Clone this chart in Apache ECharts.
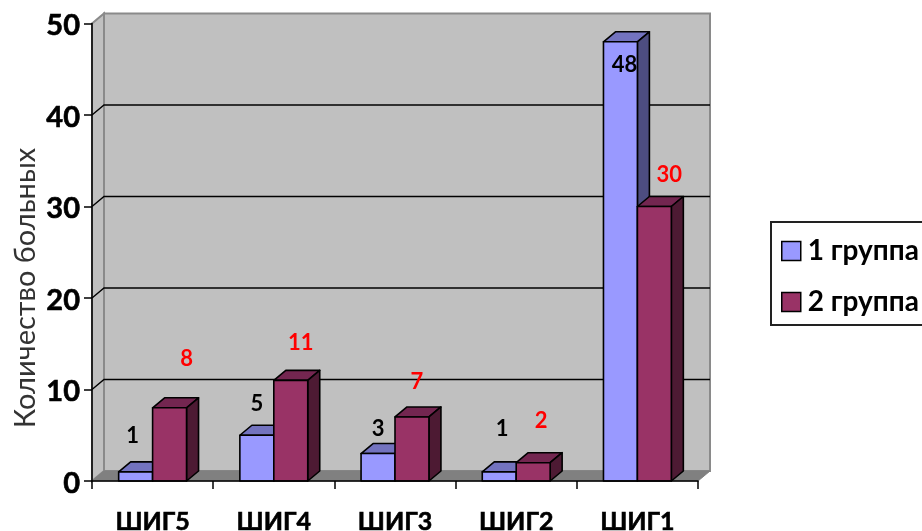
<!DOCTYPE html>
<html>
<head>
<meta charset="utf-8">
<style>html,body{margin:0;padding:0;background:#fff}#chart{width:922px;height:531px}</style>
<script src="https://cdn.jsdelivr.net/npm/echarts@6/dist/echarts.min.js"></script>
</head>
<body>
<div id="chart"></div>
<script>
// Patient counts per ШИГ grade for the two study groups
const categories = ['ШИГ5', 'ШИГ4', 'ШИГ3', 'ШИГ2', 'ШИГ1'];
const group1Name = '1 группа';
const group2Name = '2 группа';
const group1Values = [1, 5, 3, 1, 48];
const group2Values = [8, 11, 7, 2, 30];
const yMax = 50;
const yStep = 10;
const wallLines = [10, 20, 30, 40];

// Hand-placed value labels: pixel nudges from the top-centre of each bar's front face
const group1LabelDx = [-3, 0, 0, 3, 4];
const group1LabelDy = [-36, -31, -25, -43, 23];
const group2LabelDx = [17, 10, 5, 8, 15];
const group2LabelDy = [-49, -37, -35, -42, -32];

// Oblique projection used for the box and the bars
const DEPTH_X = 12;
const DEPTH_Y = -10;
const BAR_SHARE = 0.28;
const FONT = 'Lato, "Noto Sans", sans-serif';

function renderBox(params, api) {
  const o = api.coord([0, 0]);
  const band = api.size([1, 0])[0];
  const x0 = o[0] - band / 2;
  const x1 = x0 + band * categories.length;
  const yBase = o[1];
  const yTop = api.coord([0, yMax])[1];
  const wallStroke = { stroke: '#8a8a8a', lineWidth: 2 };
  const children = [
    { type: 'polygon', shape: { points: [[x0 + DEPTH_X, yTop + DEPTH_Y], [x1 + DEPTH_X, yTop + DEPTH_Y], [x1 + DEPTH_X, yBase + DEPTH_Y], [x0 + DEPTH_X, yBase + DEPTH_Y]] },
      style: Object.assign({ fill: '#c0c0c0' }, wallStroke) },
    { type: 'polygon', shape: { points: [[x0, yTop], [x0 + DEPTH_X, yTop + DEPTH_Y], [x0 + DEPTH_X, yBase + DEPTH_Y], [x0, yBase]] },
      style: Object.assign({ fill: '#c0c0c0' }, wallStroke) },
    { type: 'polygon', shape: { points: [[x0, yBase], [x0 + DEPTH_X, yBase + DEPTH_Y], [x1 + DEPTH_X, yBase + DEPTH_Y], [x1, yBase]] },
      style: { fill: '#808080', stroke: '#808080', lineWidth: 1 } }
  ];
  wallLines.forEach(function (v) {
    const y = api.coord([0, v])[1];
    children.push({ type: 'polyline', shape: { points: [[x0, y], [x0 + DEPTH_X, y + DEPTH_Y], [x1 + DEPTH_X, y + DEPTH_Y]] },
      style: { fill: null, stroke: '#000', lineWidth: 1.4 } });
  });
  return { type: 'group', children: children };
}

// Builds a renderer for one group; side is -1 for the left bar of a pair, 0 for the right one
function barRenderer(side, front, top, flank, labelColor, dxs, dys) {
  return function (params, api) {
    const idx = api.value(0);
    const val = api.value(1);
    const p = api.coord([idx, val]);
    const b = api.coord([idx, 0]);
    const w = api.size([1, 0])[0] * BAR_SHARE;
    const l = p[0] + side * w;
    const r = l + w;
    const t = p[1];
    const y0 = b[1];
    const line = { stroke: '#000', lineWidth: 1.6, lineJoin: 'round' };
    return {
      type: 'group',
      children: [
        { type: 'polygon', shape: { points: [[l, t], [l + DEPTH_X, t + DEPTH_Y], [r + DEPTH_X, t + DEPTH_Y], [r, t]] }, style: Object.assign({ fill: top }, line) },
        { type: 'polygon', shape: { points: [[r, t], [r + DEPTH_X, t + DEPTH_Y], [r + DEPTH_X, y0 + DEPTH_Y], [r, y0]] }, style: Object.assign({ fill: flank }, line) },
        { type: 'polygon', shape: { points: [[l, t], [r, t], [r, y0], [l, y0]] }, style: Object.assign({ fill: front }, line) },
        { type: 'text', z2: 50, x: (l + r) / 2 + dxs[idx], y: t + dys[idx],
          style: { text: String(val), fill: labelColor, font: 'bold 22px ' + FONT, textAlign: 'center', textVerticalAlign: 'middle' } }
      ]
    };
  };
}

const chart = echarts.init(document.getElementById('chart'), null, { renderer: 'canvas' });
chart.setOption({
  animation: false,
  backgroundColor: '#fff',
  grid: { left: 92, right: 224, top: 23.5, bottom: 50, outerBoundsMode: 'none' },
  xAxis: {
    type: 'category',
    data: categories,
    z: 5,
    axisLine: { lineStyle: { color: '#000', width: 1.5 } },
    axisTick: { show: true, length: 8, lineStyle: { color: '#000', width: 1.5 } },
    axisLabel: { interval: 0, margin: 28, color: '#000', fontFamily: FONT, fontWeight: 'bold', fontSize: 25, textBorderColor: '#000', textBorderWidth: 0.6 }
  },
  yAxis: {
    type: 'value',
    min: 0,
    max: yMax,
    interval: yStep,
    z: 5,
    splitLine: { show: false },
    axisLine: { show: true, lineStyle: { color: '#000', width: 1.5 } },
    axisTick: { show: true, length: 8, lineStyle: { color: '#000', width: 1.5 } },
    axisLabel: {
      margin: 12,
      formatter: '{n|{value}}',
      rich: { n: { padding: [5, 0, 0, 0], color: '#000', fontFamily: FONT, fontWeight: 'bold', fontSize: 29, textBorderColor: '#000', textBorderWidth: 0.6 } }
    }
  },
  legend: {
    left: 771,
    top: 222,
    orient: 'vertical',
    data: [group1Name, group2Name],
    icon: 'rect',
    itemWidth: 19,
    itemHeight: 19,
    itemGap: 23,
    padding: [15, 20, 9, 10],
    borderColor: '#222',
    borderWidth: 2,
    backgroundColor: '#fff',
    selectedMode: false,
    itemStyle: { borderColor: '#000', borderWidth: 1.5 },
    textStyle: { color: '#000', fontFamily: FONT, fontWeight: 'bold', fontSize: 28, padding: [0, 0, 0, 2] }
  },
  graphic: [{
    type: 'text',
    x: 26,
    y: 288,
    rotation: Math.PI / 2,
    style: { text: 'Количество больных', fill: '#333', font: '29px ' + FONT, textAlign: 'center', textVerticalAlign: 'middle' }
  }],
  series: [
    { type: 'custom', name: 'box', z: 1, silent: true, renderItem: renderBox, data: [[0, 0]], encode: { x: 0, y: 1 } },
    { type: 'custom', name: group1Name, z: 2, silent: true, itemStyle: { color: '#9999ff' },
      renderItem: barRenderer(-1, '#9999ff', '#7373bf', '#4d4d80', '#000', group1LabelDx, group1LabelDy),
      data: group1Values.map(function (v, i) { return [i, v]; }), encode: { x: 0, y: 1 } },
    { type: 'custom', name: group2Name, z: 3, silent: true, itemStyle: { color: '#993366' },
      renderItem: barRenderer(0, '#993366', '#732650', '#4d1a33', '#ff0000', group2LabelDx, group2LabelDy),
      data: group2Values.map(function (v, i) { return [i, v]; }), encode: { x: 0, y: 1 } }
  ]
});
</script>
</body>
</html>
